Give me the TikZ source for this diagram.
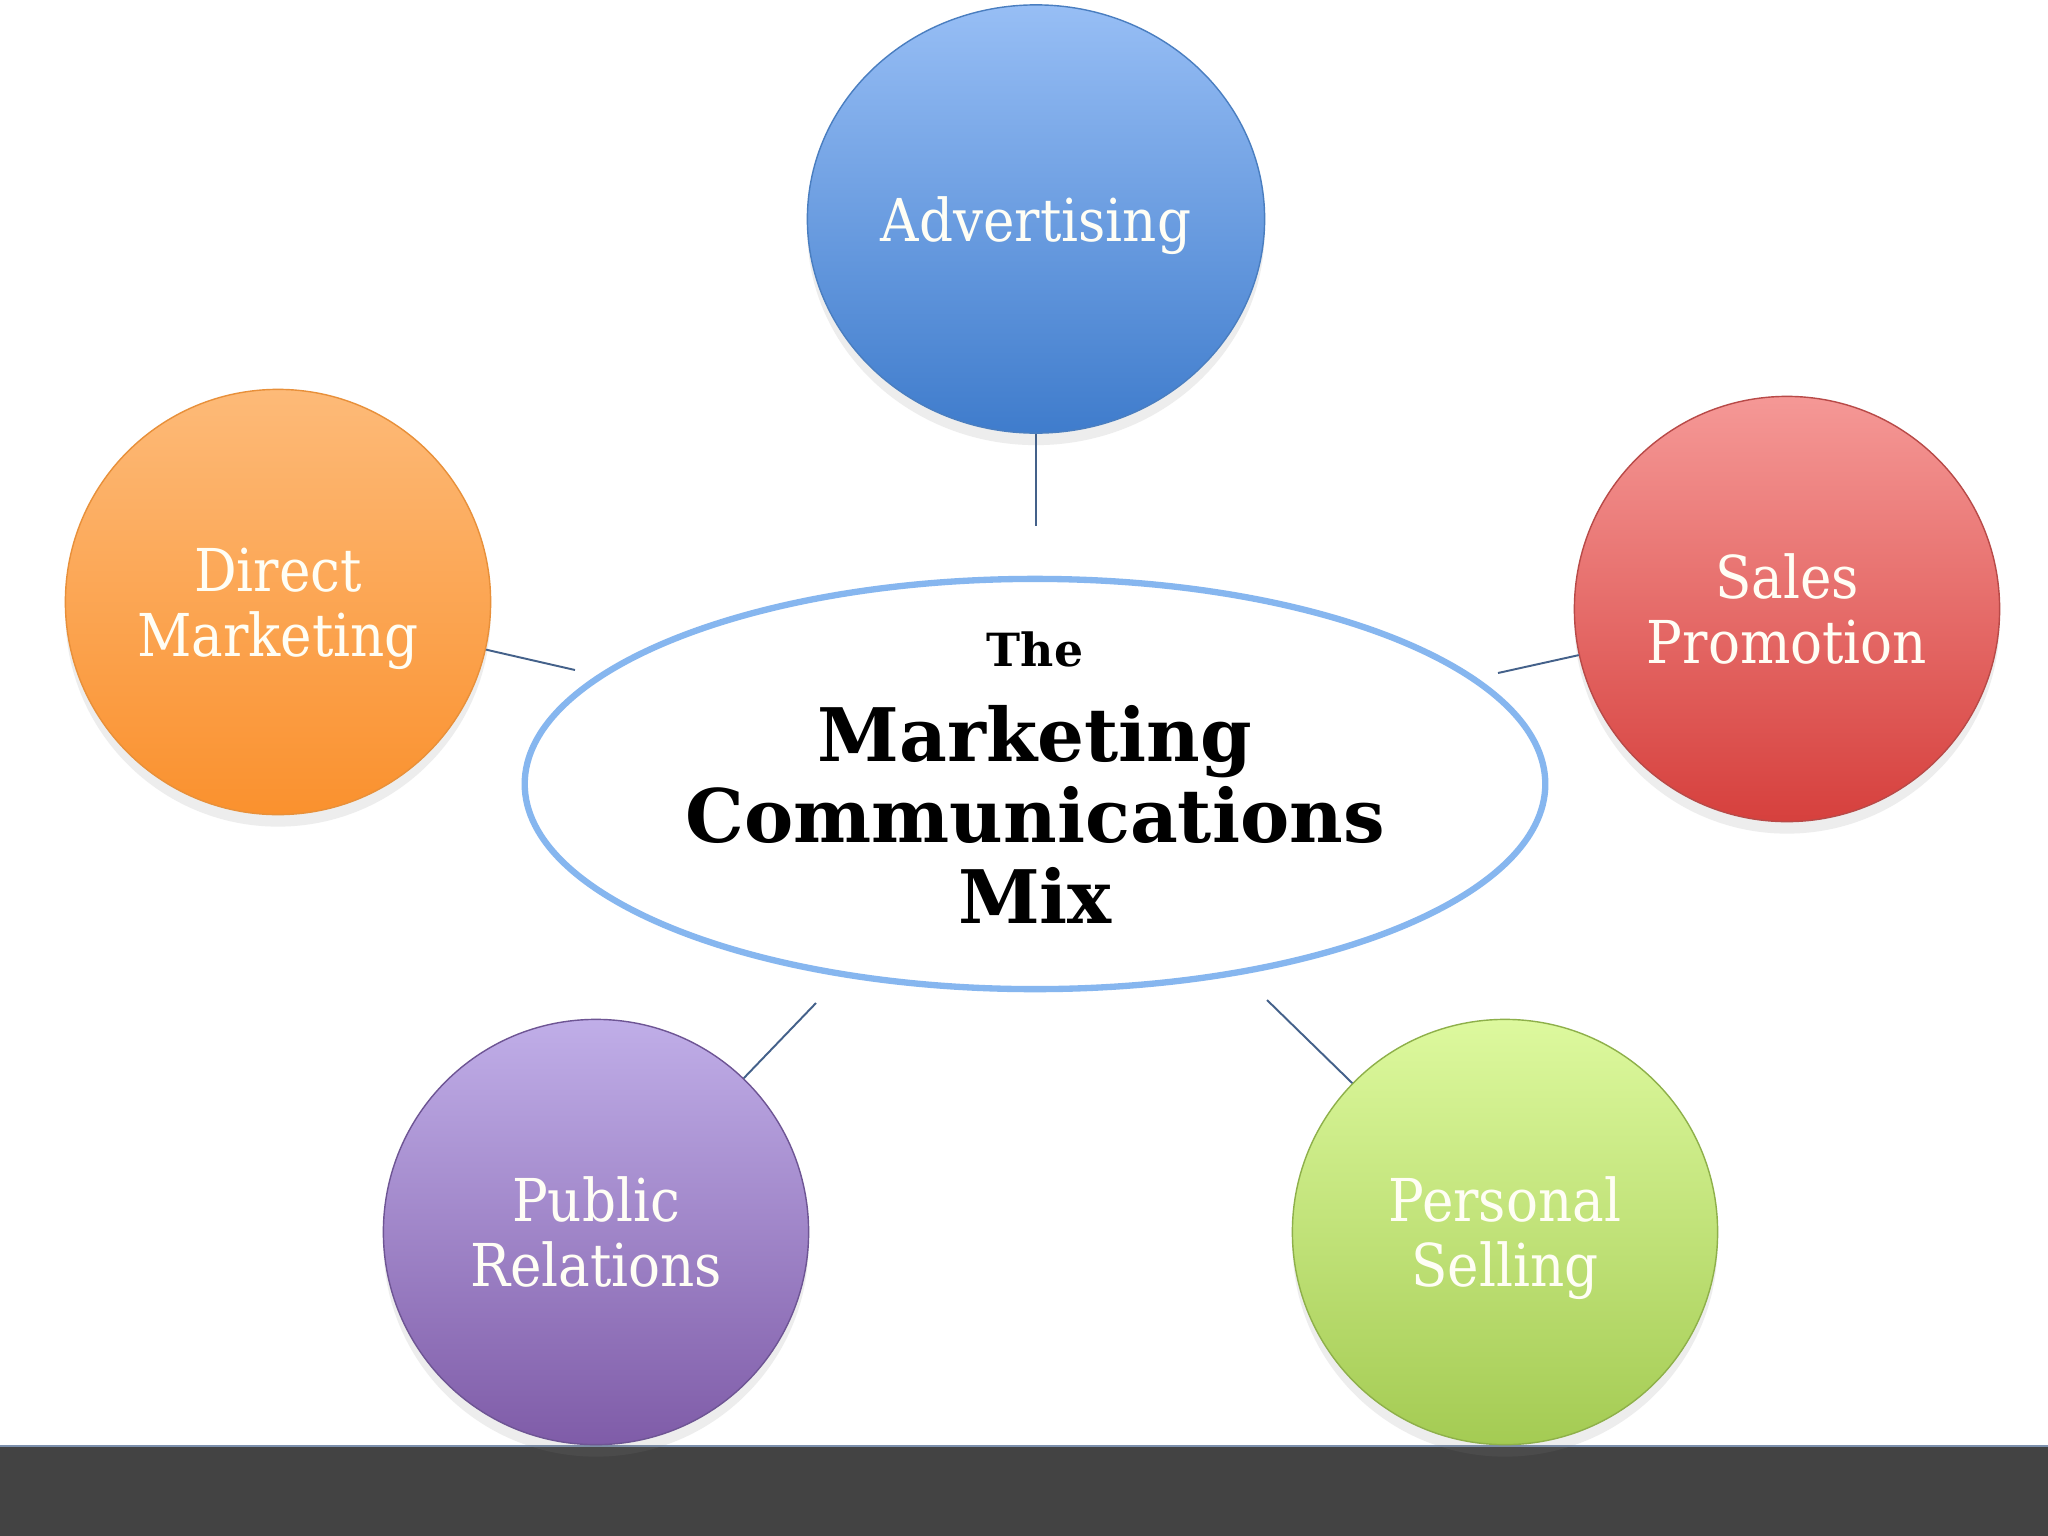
\documentclass[tikz,border=0pt]{standalone}
\usepackage{fontspec}
\setmainfont{DejaVu Serif Condensed}
\newfontfamily\mixfont{DejaVu Serif}
\usepackage{tikz}
\usetikzlibrary{shapes,shadows}
\definecolor{advtop}{HTML}{97BEF5}
\definecolor{advbot}{HTML}{3F7CCC}
\definecolor{advrim}{HTML}{4A7EC0}
\definecolor{dmtop}{HTML}{FDBA78}
\definecolor{dmbot}{HTML}{FA912E}
\definecolor{dmrim}{HTML}{E8903A}
\definecolor{sptop}{HTML}{F59896}
\definecolor{spbot}{HTML}{D6403D}
\definecolor{sprim}{HTML}{B84A48}
\definecolor{prtop}{HTML}{C0AEE8}
\definecolor{prbot}{HTML}{7F5CA8}
\definecolor{prrim}{HTML}{6E5594}
\definecolor{pstop}{HTML}{DDF99E}
\definecolor{psbot}{HTML}{A4CB53}
\definecolor{psrim}{HTML}{8EB04A}
\definecolor{hubrim}{HTML}{86B6EF}
\definecolor{linkblue}{HTML}{44618A}
\definecolor{barfill}{HTML}{434343}
\tikzstyle{line} = [draw, color=linkblue, line width=0.55pt]
\tikzstyle{bubble} = [draw, circle, minimum size=4.25cm, text centered, align=center, text=white!96!yellow,
    text depth=0pt, font=\fontsize{16.8}{18.5}\selectfont, drop shadow={opacity=0.14, shadow xshift=0pt, shadow yshift=-1.2mm}]
\tikzstyle{hub} = [draw=hubrim, line width=1.8pt, ellipse, minimum width=10.2cm, minimum height=4.1cm,
    inner xsep=0pt, inner ysep=-14pt, text centered, align=center, font=\mixfont\bfseries\fontsize{21}{23}\selectfont]

\begin{document}
\begin{tikzpicture}[x=0.01cm, y=-0.01cm]
        \useasboundingbox (0,0) rectangle (2048,1536);
        \fill[white] (0,0) rectangle (2048,1536);
        \fill[barfill] (0,1446) rectangle (2048,1536);
        \draw[linkblue!70, line width=0.4pt] (0,1446) -- (2048,1446);
        \node[hub] (mix) at (1035,784) {{\fontsize{13}{15}\selectfont The}\\[4pt] Marketing\\Communications\\Mix\\[-19.5pt]};
        \node[bubble, ellipse, inner sep=0pt, minimum width=4.57cm, minimum height=4.28cm, draw=advrim, top color=advtop, bottom color=advbot] (adv) at (1036,219) {Advertising};
        \node[bubble, draw=dmrim, top color=dmtop, bottom color=dmbot] (dm) at (278,602) {Direct\\Marketing};
        \node[bubble, draw=sprim, top color=sptop, bottom color=spbot] (sp) at (1787,609) {Sales\\Promotion};
        \node[bubble, draw=prrim, top color=prtop, bottom color=prbot] (pr) at (596,1232) {Public\\Relations};
        \node[bubble, draw=psrim, top color=pstop, bottom color=psbot] (ps) at (1505,1232) {Personal\\Selling};
        \coordinate (advend) at (1036,526);
        \coordinate (dmend) at (575,670);
        \coordinate (spend) at (1498,673);
        \coordinate (prend) at (816,1003);
        \coordinate (psend) at (1267,1000);
        \path[line] (adv) -- (advend);
        \path[line] (dm) -- (dmend);
        \path[line] (sp) -- (spend);
        \path[line] (pr) -- (prend);
        \path[line] (ps) -- (psend);
    \end{tikzpicture}
\end{document}
